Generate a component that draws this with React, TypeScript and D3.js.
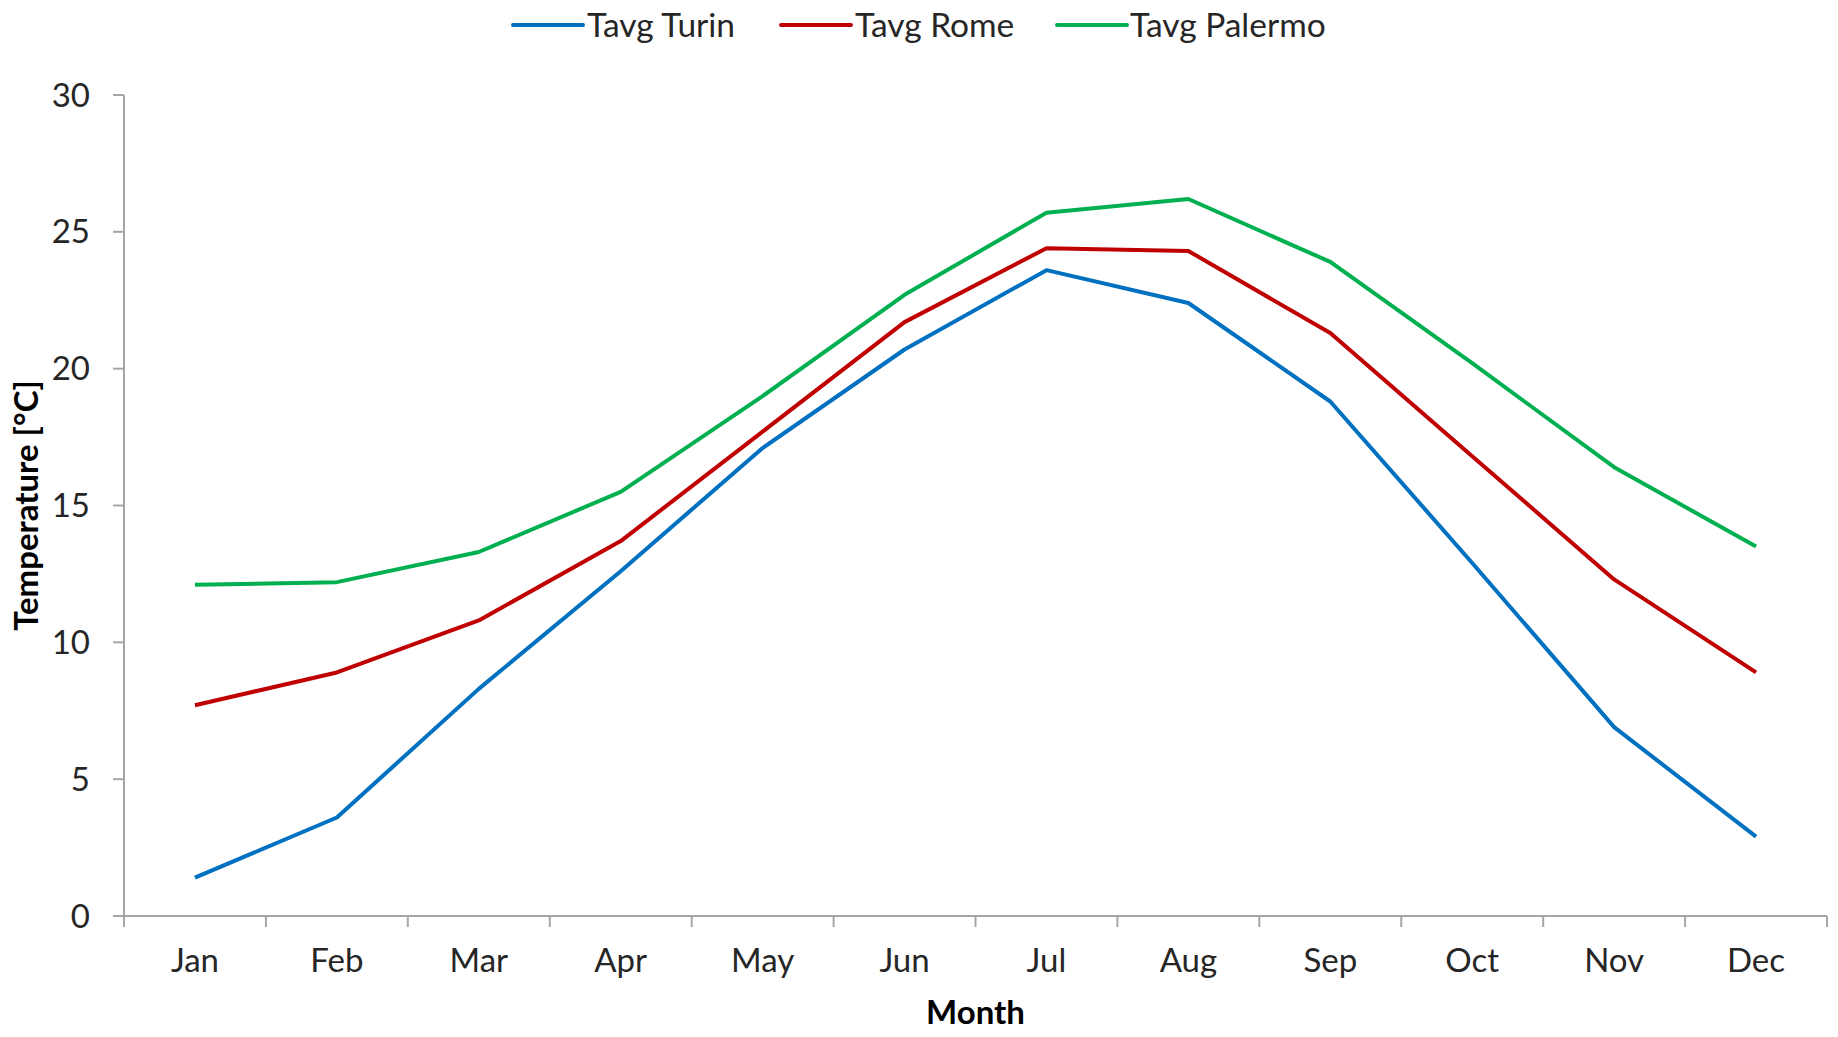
import React from "react";
import * as d3 from "d3";

const months = ["Jan", "Feb", "Mar", "Apr", "May", "Jun", "Jul", "Aug", "Sep", "Oct", "Nov", "Dec"];
const turin = [1.4, 3.6, 8.3, 12.6, 17.1, 20.7, 23.6, 22.4, 18.8, 12.9, 6.9, 2.9];
const rome = [7.7, 8.9, 10.8, 13.7, 17.7, 21.7, 24.4, 24.3, 21.3, 16.8, 12.3, 8.9];
const palermo = [12.1, 12.2, 13.3, 15.5, 19.0, 22.7, 25.7, 26.2, 23.9, 20.2, 16.4, 13.5];
const seriesNames = ["Tavg Turin", "Tavg Rome", "Tavg Palermo"];
const seriesColors = ["#0070C0", "#C00000", "#00B050"];
const yTicks = [0, 5, 10, 15, 20, 25, 30];

const W = 1838;
const H = 1037;
const FONT = "Lato, 'Open Sans', sans-serif";
const AXIS = "#A6A6A6";

export default function App() {
  const left = 124, right = 1827, top = 95, bottom = 916;
  const x = d3.scaleBand<string>().domain(months).range([left, right]).padding(0);
  const y = d3.scaleLinear().domain([0, 30]).range([bottom, top]);
  const cx = (m: string) => (x(m) as number) + x.bandwidth() / 2;
  const line = d3
    .line<number>()
    .x((_, i) => cx(months[i]))
    .y((v) => y(v));
  const series = [turin, rome, palermo];

  const legendItems = [
    { lx: 513, tx: 587 },
    { lx: 781, tx: 855 },
    { lx: 1057, tx: 1130 },
  ];

  const boundaries = months.map((m) => x(m) as number).concat([right]);

  return (
    <svg width={W} height={H} style={{ position: "absolute", left: 0, top: 0, background: "#fff" }} fontFamily={FONT}>
      <rect x={0} y={0} width={W} height={H} fill="#fff" />
      {/* legend */}
      {seriesNames.map((n, i) => (
        <g key={n}>
          <line x1={legendItems[i].lx} x2={legendItems[i].lx + 70} y1={25} y2={25} stroke={seriesColors[i]} strokeWidth={4} strokeLinecap="round" />
          <text x={legendItems[i].tx} y={25} dy="0.35em" fontSize={33.5} fill="#262626">{n}</text>
        </g>
      ))}
      {/* y axis */}
      <line x1={left} x2={left} y1={top} y2={bottom} stroke={AXIS} strokeWidth={2} />
      {yTicks.map((t) => (
        <g key={t}>
          <line x1={left - 11} x2={left} y1={y(t)} y2={y(t)} stroke={AXIS} strokeWidth={2} />
          <text x={90} y={y(t)} dy="0.35em" textAnchor="end" fontSize={33} fill="#262626">{t}</text>
        </g>
      ))}
      {/* x axis */}
      <line x1={left - 11} x2={right} y1={bottom} y2={bottom} stroke={AXIS} strokeWidth={2} />
      {boundaries.map((b, i) => (
        <line key={i} x1={b} x2={b} y1={bottom} y2={bottom + 11} stroke={AXIS} strokeWidth={2} />
      ))}
      {months.map((m) => (
        <text key={m} x={cx(m)} y={960} dy="0.35em" textAnchor="middle" fontSize={33} fill="#262626">{m}</text>
      ))}
      {/* titles */}
      <text x={(left + right) / 2} y={1012} dy="0.35em" textAnchor="middle" fontSize={33} fontWeight="bold" fill="#000">Month</text>
      <text transform={`translate(26,${(top + bottom) / 2}) rotate(-90)`} dy="0.35em" textAnchor="middle" fontSize={33} fontWeight="bold" fill="#000">Temperature [°C]</text>
      {/* lines */}
      {series.map((s, i) => (
        <path key={i} d={line(s) || ""} fill="none" stroke={seriesColors[i]} strokeWidth={4} strokeLinejoin="round" />
      ))}
    </svg>
  );
}
